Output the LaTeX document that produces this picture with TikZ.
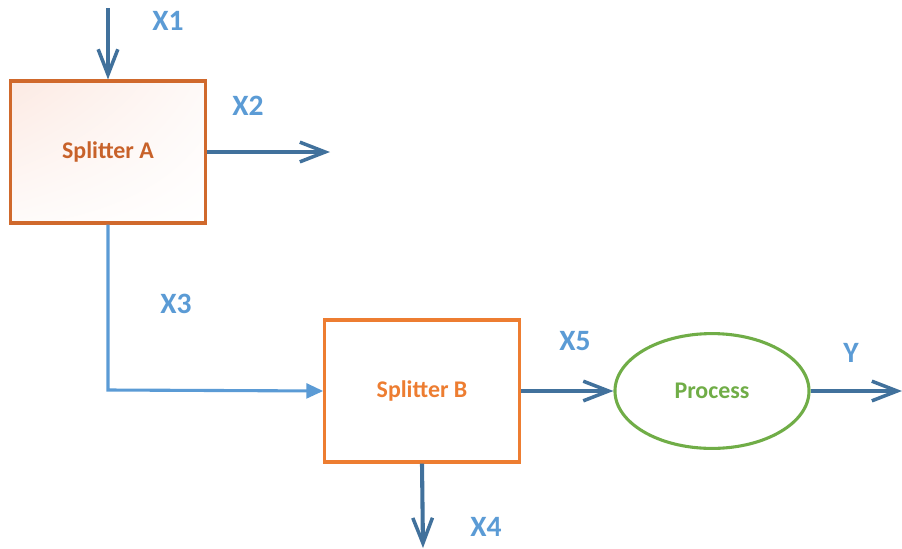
\documentclass[tikz,border=0pt]{standalone}
\usepackage{fontspec}
\setmainfont{Carlito}
\usetikzlibrary{arrows.meta,shapes.geometric,shadings}
\definecolor{darkblue}{HTML}{41719C}
\definecolor{lightblue}{HTML}{5B9BD5}
\definecolor{darkorange}{HTML}{D0692C}
\definecolor{textorange}{HTML}{C8622A}
\definecolor{brightorange}{HTML}{ED7D31}
\definecolor{procgreen}{HTML}{70AD47}
\definecolor{pinkfill}{HTML}{FBE3DA}

\begin{document}
\begin{tikzpicture}[x=0.025cm,y=-0.025cm,
    unit/.style={rectangle,minimum width=4.86cm,minimum height=3.55cm,line width=2.2pt,inner sep=0pt},
    flowlabel/.style={text=lightblue,font=\fontsize{21}{24}\selectfont\bfseries},
    flow/.style={draw=darkblue,line width=2.9pt,-{Straight Barb[length=18pt,width=14pt,line width=2.5pt]}},
    feed/.style={draw=lightblue,line width=2.2pt,-{Triangle[length=12pt,width=10.5pt]}}]
    \useasboundingbox (0,0) rectangle (902,548);

    \node[unit,draw=darkorange,upper left=pinkfill!75,upper right=pinkfill!20,lower left=pinkfill!15,lower right=white,
          text=textorange,font=\fontsize{17}{20}\selectfont\bfseries] (A) at (108,152) {Splitter A};
    \node[unit,draw=brightorange,fill=white,text=brightorange,font=\fontsize{17}{20}\selectfont\bfseries] (B) at (422,391) {Splitter B};
    \node[ellipse,draw=procgreen,line width=2.2pt,minimum width=4.85cm,minimum height=2.87cm,inner sep=0pt,
          text=procgreen,font=\fontsize{17}{20}\selectfont\bfseries] (P) at (712,391) {Process};

    \coordinate (in) at (108,8);
    \coordinate (out2) at (330,152);
    \coordinate (out4) at (423,548);
    \coordinate (outY) at (902,391);
    \coordinate (bend) at (108,390);

    \node[flowlabel] (x1) at (168,21) {X1};
    \node[flowlabel] (x2) at (248,106) {X2};
    \node[flowlabel] (x3) at (176,304) {X3};
    \node[flowlabel] (x4) at (486,527) {X4};
    \node[flowlabel] (x5) at (575,341) {X5};
    \node[flowlabel] (y) at (851,353) {Y};

    \draw[flow] (in) -- (A.north);
    \draw[flow] (A.east) -- (out2);
    \draw[feed] (A.south) -- (bend) -- (B.west);
    \draw[flow] (B.south) -- (out4);
    \draw[flow] (B.east) -- (P.west);
    \draw[flow] (P.east) -- (outY);
\end{tikzpicture}
\end{document}
